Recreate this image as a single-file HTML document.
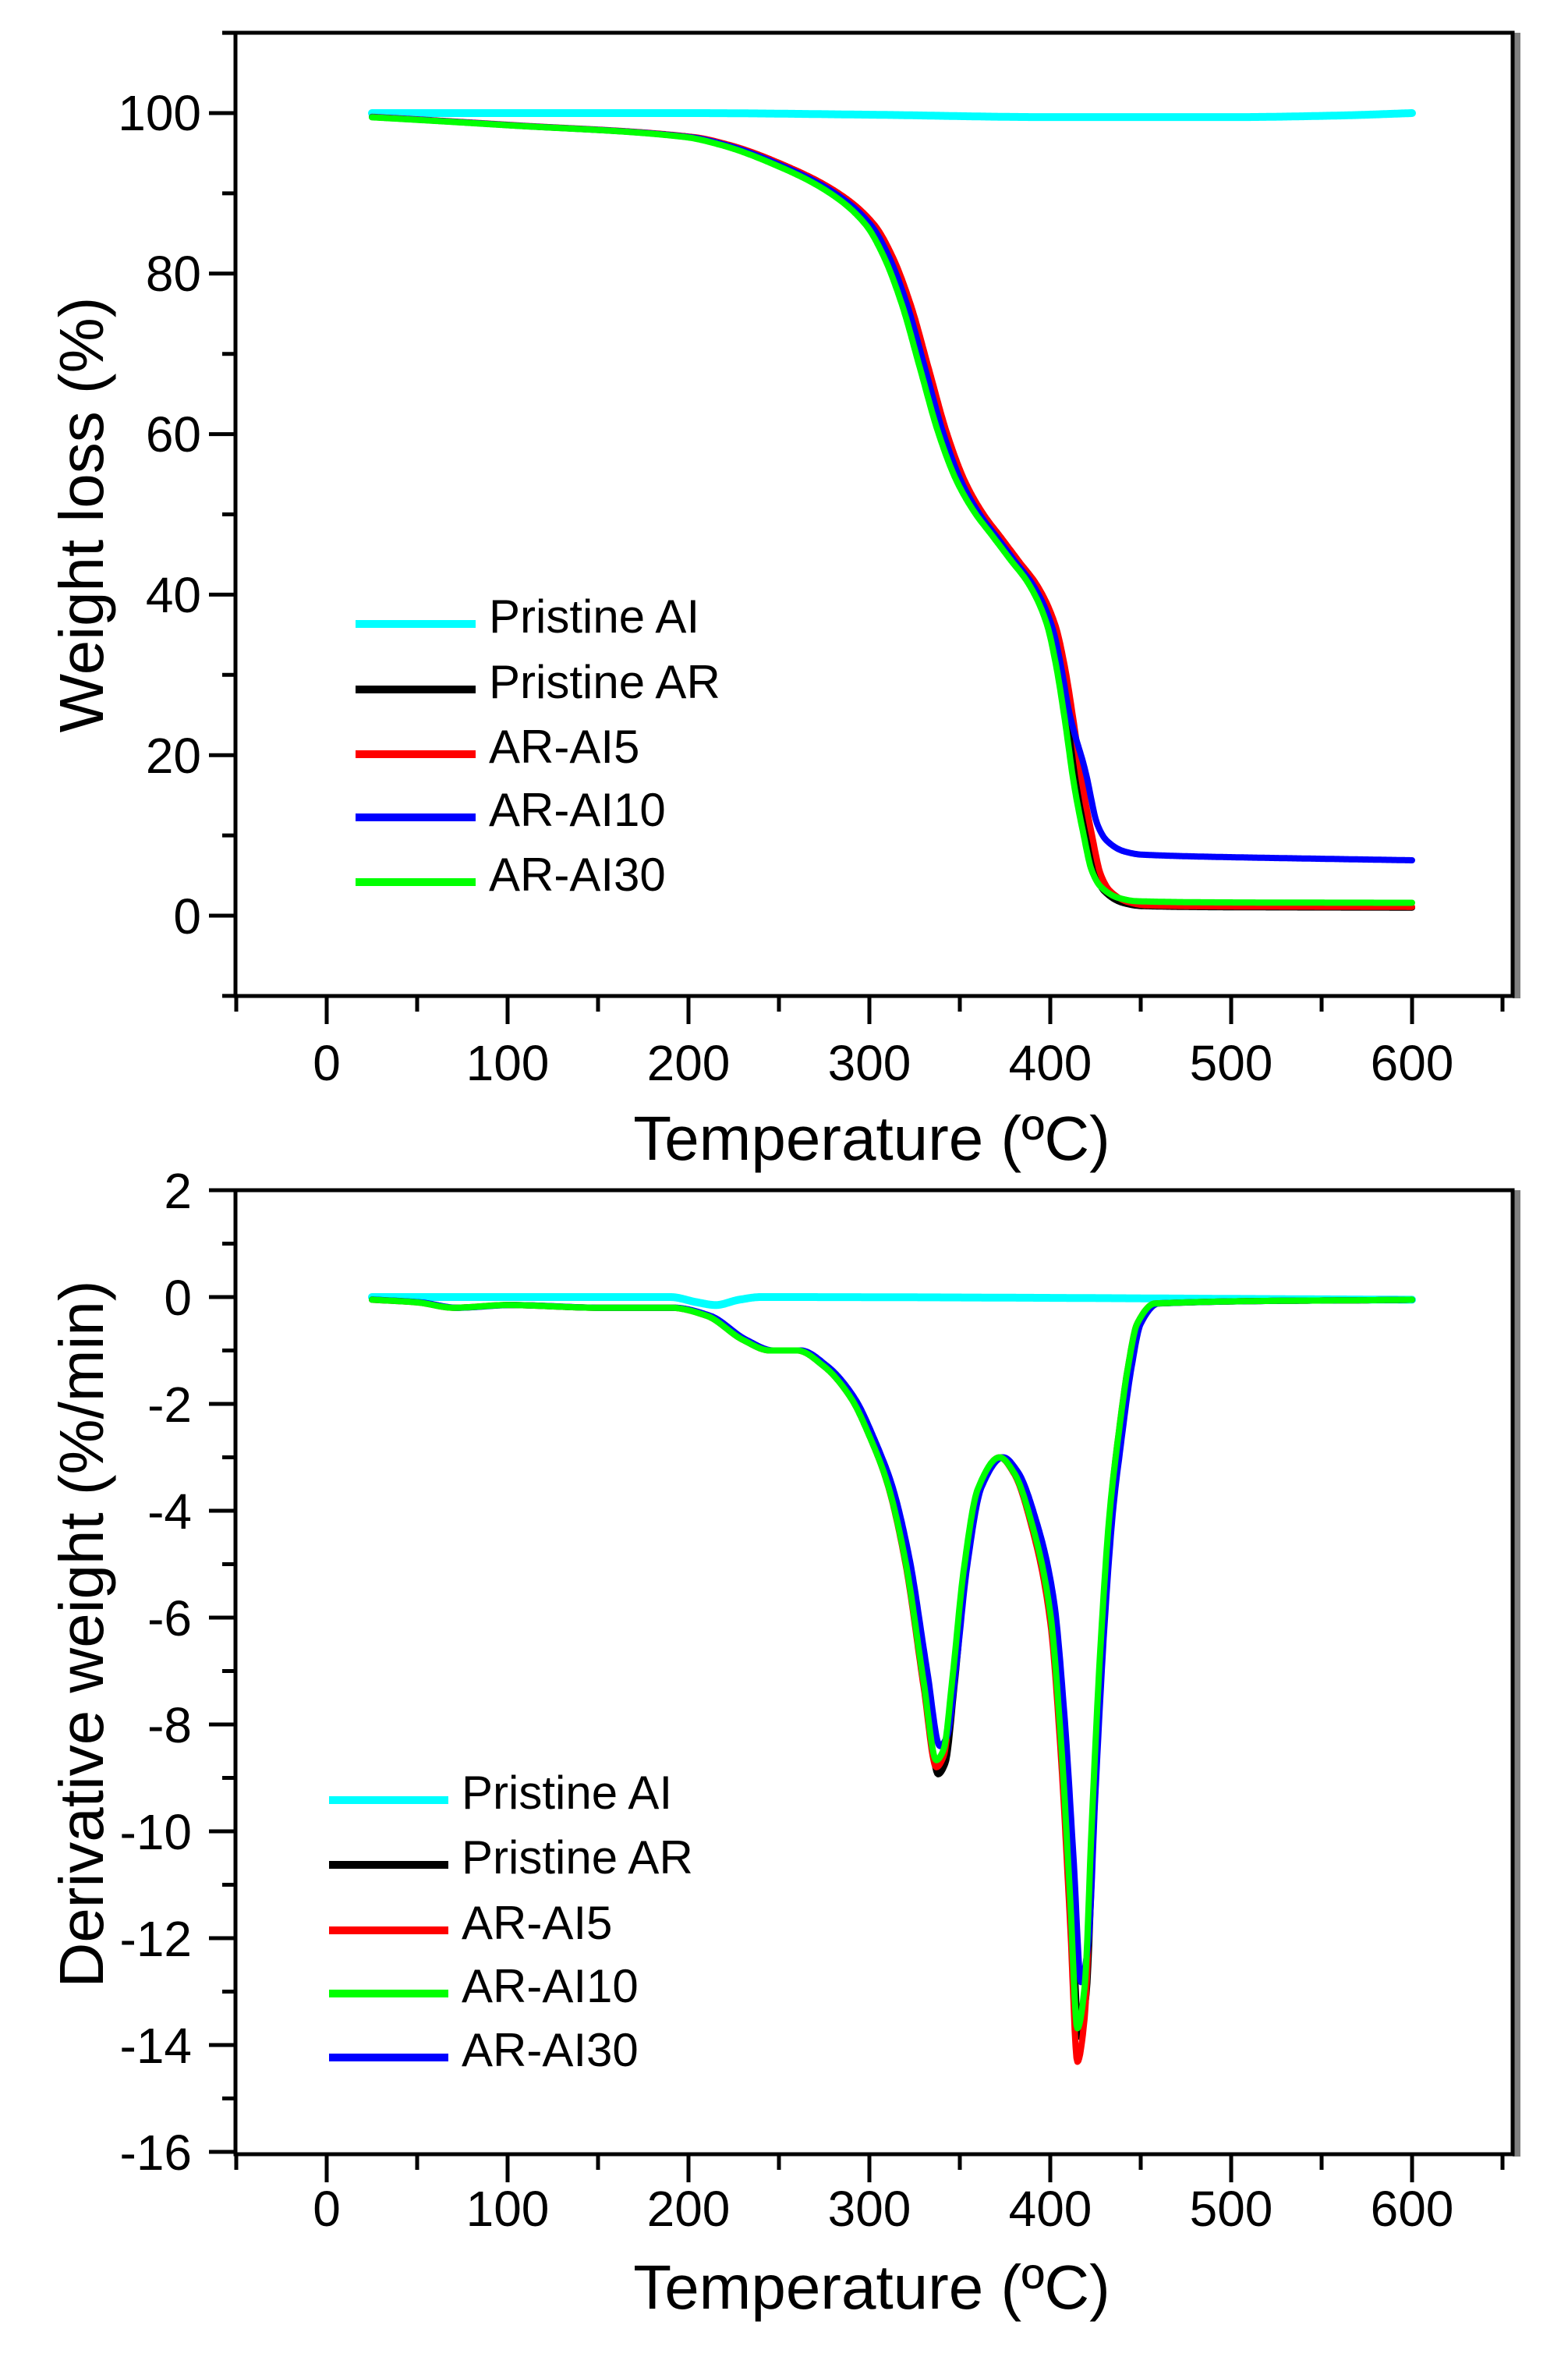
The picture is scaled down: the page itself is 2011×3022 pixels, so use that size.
<!DOCTYPE html>
<html><head><meta charset="utf-8"><style>
html,body{margin:0;padding:0;background:#fff;}
svg{display:block;}
text{font-family:"Liberation Sans",Arial,sans-serif;fill:#000;}
</style></head><body>
<svg id="s" width="2011" height="3022" viewBox="0 0 2011 3022" xmlns="http://www.w3.org/2000/svg">
<rect width="2011" height="3022" fill="#fff"/>
<g id="g"></g>
<g font-size="64" text-anchor="end">
<text x="258" y="167">100</text>
<text x="258" y="373">80</text>
<text x="258" y="579">60</text>
<text x="258" y="785">40</text>
<text x="258" y="991">20</text>
<text x="258" y="1197">0</text>
</g>
<g font-size="64" text-anchor="middle">
<text x="419" y="1385">0</text><text x="651" y="1385">100</text><text x="883" y="1385">200</text>
<text x="1115" y="1385">300</text><text x="1347" y="1385">400</text><text x="1579" y="1385">500</text><text x="1811" y="1385">600</text>
</g>
<text x="1118" y="1487" font-size="80" text-anchor="middle">Temperature (ºC)</text>
<text transform="translate(132,660) rotate(-90)" font-size="80" text-anchor="middle">Weight loss (%)</text>
<g font-size="60">
<text x="627" y="811">Pristine AI</text>
<text x="627" y="895">Pristine AR</text>
<text x="627" y="978">AR-AI5</text>
<text x="627" y="1059">AR-AI10</text>
<text x="627" y="1142">AR-AI30</text>
</g>
<g font-size="64" text-anchor="end">
<text x="246" y="1549">2</text><text x="246" y="1686">0</text><text x="246" y="1823">-2</text>
<text x="246" y="1960">-4</text><text x="246" y="2097">-6</text><text x="246" y="2234">-8</text>
<text x="246" y="2371">-10</text><text x="246" y="2508">-12</text><text x="246" y="2645">-14</text><text x="246" y="2782">-16</text>
</g>
<g font-size="64" text-anchor="middle">
<text x="419" y="2854">0</text><text x="651" y="2854">100</text><text x="883" y="2854">200</text>
<text x="1115" y="2854">300</text><text x="1347" y="2854">400</text><text x="1579" y="2854">500</text><text x="1811" y="2854">600</text>
</g>
<text x="1118" y="2960" font-size="80" text-anchor="middle">Temperature (ºC)</text>
<text transform="translate(132,2095) rotate(-90)" font-size="80" text-anchor="middle">Derivative weight (%/min)</text>
<g font-size="60">
<text x="592" y="2319">Pristine AI</text>
<text x="592" y="2402">Pristine AR</text>
<text x="592" y="2486">AR-AI5</text>
<text x="592" y="2567">AR-AI10</text>
<text x="592" y="2649">AR-AI30</text>
</g>
</svg>
<script>
var NS="http://www.w3.org/2000/svg",G=document.getElementById('g');
function el(t,a){var e=document.createElementNS(NS,t);for(var k in a)e.setAttribute(k,a[k]);G.appendChild(e);return e;}
function line(x1,y1,x2,y2,w,c){el('line',{x1:x1,y1:y1,x2:x2,y2:y2,stroke:c||'#000','stroke-width':w});}
function X(t){return 419+2.32*t;}
function frame(top,bot,Yf,maj,min){
  el('rect',{x:1940,y:top,width:10,height:bot-top+3,fill:'#808080'});
  el('rect',{x:302,y:top,width:1638,height:bot-top,fill:'none',stroke:'#000','stroke-width':5});
  line(285,top,302,top,5);
  for(var t=-50;t<=650;t+=50){var m=(t%100===0&&t>=0&&t<=600);line(X(t),bot,X(t),bot+(m?36:20),5);}
  maj.forEach(function(v){line(268,Yf(v),302,Yf(v),5);});
  min.forEach(function(v){line(285,Yf(v),302,Yf(v),5);});
}
function mono(d){var n=d.length,dx=[],sl=[],m=[];
  for(var i=0;i<n-1;i++){dx[i]=d[i+1][0]-d[i][0];sl[i]=(d[i+1][1]-d[i][1])/dx[i];}
  m[0]=sl[0];m[n-1]=sl[n-2];
  for(i=1;i<n-1;i++){if(sl[i-1]*sl[i]<=0)m[i]=0;else{var w1=2*dx[i]+dx[i-1],w2=dx[i]+2*dx[i-1];m[i]=(w1+w2)/(w1/sl[i-1]+w2/sl[i]);}}
  return function(t){if(t<=d[0][0])return d[0][1];if(t>=d[n-1][0])return d[n-1][1];
    for(var i=0;i<n-1;i++){if(t<=d[i+1][0]){var h=dx[i],s=(t-d[i][0])/h,s2=s*s,s3=s2*s;
      return (2*s3-3*s2+1)*d[i][1]+(s3-2*s2+s)*h*m[i]+(-2*s3+3*s2)*d[i+1][1]+(s3-s2)*h*m[i+1];}}};}
function path(fn,Yf,c,w){var s='';for(var t=25;t<=600;t+=0.5){s+=(t===25?'M':'L')+X(t).toFixed(1)+','+Yf(fn(t)).toFixed(1);}el('path',{d:s,fill:'none',stroke:c,'stroke-width':w,'stroke-linejoin':'round','stroke-linecap':'round'});}
var Y1=function(v){return 1174-10.29*v;};
var maj1=[],min1=[];for(var v=0;v<=100;v+=20)maj1.push(v);for(v=-10;v<=110;v+=20)min1.push(v);
frame(42,1277,Y1,maj1,min1);
var tga=mono([[0,99.8],[25,99.5],[100,98.5],[200,97],[220,96],[250,93.5],[280,90],[300,86],[310,82],[320,76],[330,68],[340,60],[350,54],[360,50],[370,47],[380,44],[390,41],[400,36],[405,31],[410,24],[415,16],[420,10],[425,5],[430,3],[440,1.6],[450,1.2],[500,1.05],[600,1]]);
var cy=mono([[25,100],[200,100],[300,99.8],[400,99.5],[500,99.5],[560,99.7],[600,100]]);
path(cy,Y1,'#00ffff',10);
function tg(sh,end){return function(t){var v=tga(t-sh);return v+(end-1)*Math.max(0,Math.min(1,(100-v)/99));};}
path(tg(0,1),Y1,'#000',8);
path(tg(3,1.1),Y1,'#ff0000',8);
path(function(t){var v=tga(t-1);var k=Math.max(0,Math.min(1,(28-v)/18));k=k*k*(3-2*k);return v+6.4*k-(t>450?0.5*(t-450)/150:0);},Y1,'#0000ff',8);
path(tg(-2,1.6),Y1,'#00ff00',8);
[['#00ffff',800],['#000',884],['#ff0000',967],['#0000ff',1048],['#00ff00',1131]].forEach(function(a){line(456,a[1],610,a[1],10,a[0]);});
var Y2=function(v){return 1663-68.5*v;};
var maj2=[],min2=[];for(v=-16;v<=2;v+=2)maj2.push(v);for(v=-15;v<=1;v+=2)min2.push(v);
frame(1526,2762,Y2,maj2,min2);
var dtg=mono([[0,0],[25,-0.05],[50,-0.1],[70,-0.2],[100,-0.15],[150,-0.2],[190,-0.2],[210,-0.35],[230,-0.8],[245,-1.0],[260,-1.0],[275,-1.3],[290,-1.9],[300,-2.6],[310,-3.5],[320,-5],[330,-7.3],[337,-8.8],[341,-8.6],[346,-7.2],[352,-5.2],[360,-3.6],[372,-3.0],[380,-3.3],[390,-4.3],[400,-6],[406,-8.5],[411,-11.5],[415,-14],[419,-13.2],[423,-10],[428,-6.5],[433,-4],[438,-2.5],[443,-1.3],[448,-0.5],[458,-0.12],[600,-0.05]]);
var cd=mono([[25,0],[190,0],[205,-0.1],[215,-0.15],[228,-0.05],[240,0],[600,-0.05]]);
path(cd,Y2,'#00ffff',10);
function dg(sh,p1,p2){return function(t){var v=dtg(t-sh);if(v<-3){var s=(t<372)?p1/8.8:p2/14;v=-3+(v+3)*s;}return v;};}
path(dg(1,9.0,13.8),Y2,'#000',8);
path(dg(0,8.8,14.4),Y2,'#ff0000',8);
path(dg(2,8.2,12.5),Y2,'#0000ff',8);
path(dg(0,8.6,13.6),Y2,'#00ff00',8);
[['#00ffff',2308],['#000',2391],['#ff0000',2475],['#00ff00',2556],['#0000ff',2638]].forEach(function(a){line(422,a[1],575,a[1],10,a[0]);});
</script>
</body></html>
